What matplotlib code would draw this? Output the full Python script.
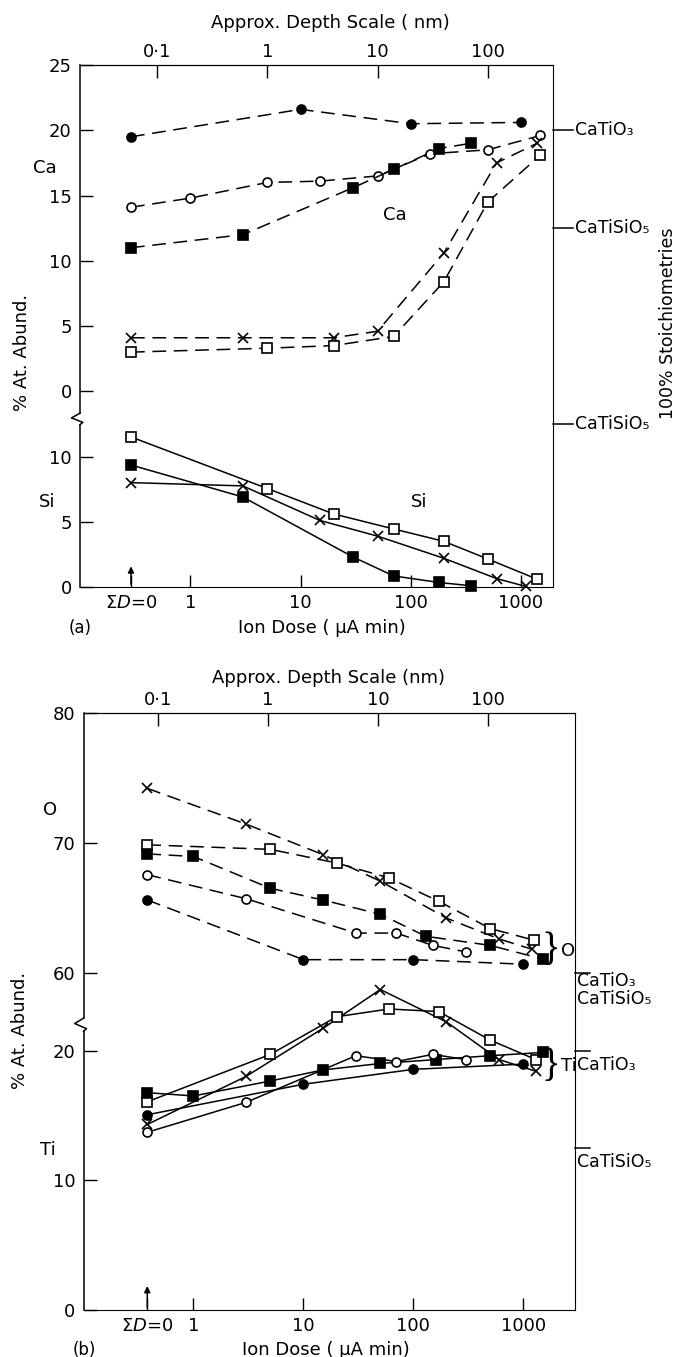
import matplotlib
matplotlib.use('Agg')
import matplotlib.pyplot as plt
import matplotlib.transforms as mtransforms
from matplotlib.ticker import NullLocator

plt.rcParams['font.family'] = ['DejaVu Sans']

# position of the "ΣD=0" column on the dose axis of each panel
SD0_A = 0.29
SD0_B = 0.38

# ---- panel (a): Ca (dashed) ----
ca_fc_x = [SD0_A, 10, 100, 1000]
ca_fc_y = [19.5, 21.6, 20.5, 20.6]
ca_oc_x = [SD0_A, 1, 5, 15, 50, 150, 500, 1500]
ca_oc_y = [14.1, 14.8, 16.0, 16.1, 16.5, 18.2, 18.5, 19.6]
ca_fs_x = [SD0_A, 3, 30, 70, 180, 350]
ca_fs_y = [11.0, 12.0, 15.6, 17.0, 18.6, 19.0]
ca_xx_x = [SD0_A, 3, 20, 50, 200, 600, 1400]
ca_xx_y = [4.1, 4.1, 4.1, 4.6, 10.6, 17.5, 19.0]
ca_os_x = [SD0_A, 5, 20, 70, 200, 500, 1500]
ca_os_y = [3.0, 3.3, 3.5, 4.2, 8.4, 14.5, 18.1]

# ---- panel (a): Si (solid) ----
si_os_x = [SD0_A, 5, 20, 70, 200, 500, 1400]
si_os_y = [11.5, 7.55, 5.6, 4.45, 3.5, 2.15, 0.6]
si_fs_x = [SD0_A, 3, 30, 70, 180, 350]
si_fs_y = [9.35, 6.9, 2.3, 0.85, 0.35, 0.1]
si_xx_x = [SD0_A, 3, 15, 50, 200, 600, 1100]
si_xx_y = [8.0, 7.75, 5.1, 3.9, 2.2, 0.65, 0.05]

# ---- panel (b): O (dashed) ----
o_xx_x = [SD0_B, 3, 15, 50, 200, 600, 1200]
o_xx_y = [74.2, 71.45, 69.1, 67.05, 64.2, 62.6, 61.8]
o_os_x = [SD0_B, 5, 20, 60, 170, 500, 1250]
o_os_y = [69.85, 69.5, 68.45, 67.3, 65.5, 63.4, 62.5]
o_fs_x = [SD0_B, 1, 5, 15, 50, 130, 500, 1500]
o_fs_y = [69.15, 68.95, 66.5, 65.6, 64.5, 62.8, 62.1, 61.05]
o_oc_x = [SD0_B, 3, 30, 70, 150, 300]
o_oc_y = [67.55, 65.7, 63.05, 63.05, 62.1, 61.6]
o_fc_x = [SD0_B, 10, 100, 1000]
o_fc_y = [65.6, 61.0, 61.0, 60.65]

# ---- panel (b): Ti (solid) ----
ti_xx_x = [SD0_B, 3, 15, 50, 200, 600, 1300]
ti_xx_y = [14.3, 18.0, 21.7, 24.7, 22.2, 19.3, 18.4]
ti_os_x = [SD0_B, 5, 20, 60, 170, 500, 1300]
ti_os_y = [16.05, 19.7, 22.6, 23.2, 23.0, 20.8, 19.3]
ti_fs_x = [SD0_B, 1, 5, 15, 50, 160, 500, 1500]
ti_fs_y = [16.75, 16.5, 17.65, 18.5, 19.0, 19.3, 19.6, 19.85]
ti_oc_x = [SD0_B, 3, 30, 70, 150, 300]
ti_oc_y = [13.7, 16.0, 19.6, 19.15, 19.7, 19.3]
ti_fc_x = [SD0_B, 10, 100, 1000]
ti_fc_y = [15.05, 17.4, 18.55, 18.95]

dose_ticks = [1, 10, 100, 1000]
depth_ticks = [0.1, 1, 10, 100]
depth_labels = ['0·1', '1', '10', '100']

DASH = (0, (9, 5))
FS = 13


def series(ax, x, y, kind, ls):
    marker = {'fc': 'o', 'oc': 'o', 'fs': 's', 'os': 's', 'xx': 'x'}[kind]
    face = 'k' if kind in ('fc', 'fs') else 'white'
    ms = 7.5 if kind == 'xx' else 6.5
    ax.plot(x, y, color='k', lw=1.1, ls=ls, marker=marker, ms=ms,
            mfc=face, mec='k', mew=1.2, clip_on=False)


def setup_dose_axis(ax, sd0, xmax, depth_factor):
    ax.set_xscale('log')
    ax.set_xlim(0.1, xmax)
    ax.set_xticks([sd0] + dose_ticks)
    ax.set_xticklabels(['$\\Sigma D$=0', '1', '10', '100', '1000'])
    ax.xaxis.set_minor_locator(NullLocator())
    ax.tick_params(axis='x', direction='in', length=9, width=1, labelsize=FS, pad=5)
    sec = ax.secondary_xaxis('top', functions=(lambda d: d * depth_factor,
                                                lambda z: z / depth_factor))
    sec.set_xticks(depth_ticks)
    sec.set_xticklabels(depth_labels)
    sec.xaxis.set_minor_locator(NullLocator())
    sec.tick_params(direction='in', length=9, width=1, labelsize=FS, pad=3)
    trans = mtransforms.blended_transform_factory(ax.transData, ax.transAxes)
    ax.annotate('', xy=(sd0, 0.045), xycoords=trans, xytext=(sd0, 0.0),
                textcoords=trans,
                arrowprops=dict(arrowstyle='-|>', lw=1.1, color='k', mutation_scale=9))


def left_spine_with_break(ax, b):
    kw = dict(color='k', lw=1.1, transform=ax.transAxes, clip_on=False)
    h, w = 0.011, 0.018
    ax.plot([0, 0], [0, b - h], **kw)
    ax.plot([0, -w, 0.006, 0], [b + h, b + 0.002, b - h * 0.6, b - h], **kw)
    ax.plot([0, 0], [b + h, 1], **kw)
    ax.spines['left'].set_visible(False)


fig = plt.figure(figsize=(6.78, 13.57), dpi=100)

# ================= panel (a) =================
ax_si = fig.add_axes([0.118, 0.5674, 0.6976, 0.3847])
ax_ca = ax_si.twinx()
ax_si.set_ylim(0, 40)
ax_ca.set_ylim(-15, 25)
for s in ax_ca.spines.values():
    s.set_visible(False)
ax_ca.yaxis.set_ticks_position('left')
ax_si.yaxis.set_ticks_position('left')
ax_si.set_yticks([0, 5, 10])
ax_ca.set_yticks([0, 5, 10, 15, 20, 25])
for a in (ax_si, ax_ca):
    a.tick_params(axis='y', direction='in', length=9, width=1, labelsize=FS, pad=6)
setup_dose_axis(ax_si, SD0_A, 1950, 0.2)
left_spine_with_break(ax_si, 0.322)

series(ax_ca, ca_fc_x, ca_fc_y, 'fc', DASH)
series(ax_ca, ca_oc_x, ca_oc_y, 'oc', DASH)
series(ax_ca, ca_fs_x, ca_fs_y, 'fs', DASH)
series(ax_ca, ca_xx_x, ca_xx_y, 'xx', DASH)
series(ax_ca, ca_os_x, ca_os_y, 'os', DASH)
series(ax_si, si_os_x, si_os_y, 'os', '-')
series(ax_si, si_fs_x, si_fs_y, 'fs', '-')
series(ax_si, si_xx_x, si_xx_y, 'xx', '-')

ax_ca.text(72, 13.5, 'Ca', fontsize=FS, ha='center', va='center')
ax_si.text(118, 6.5, 'Si', fontsize=FS, ha='center', va='center')

# stoichiometry marks on the right
for a, yv, lab in ((ax_ca, 20, 'CaTiO₃'), (ax_ca, 12.5, 'CaTiSiO₅'),
                   (ax_si, 12.5, 'CaTiSiO₅')):
    tr = mtransforms.blended_transform_factory(a.transAxes, a.transData)
    a.plot([1.0, 1.042], [yv, yv], color='k', lw=1.1, transform=tr, clip_on=False)
    a.text(1.046, yv, lab, transform=tr, fontsize=12.5, ha='left', va='center')

fig.text(0.985, 0.762, '100% Stoichiometries', rotation=90, fontsize=12.5,
         ha='center', va='center')
fig.text(0.032, 0.74, '% At. Abund.', rotation=90, fontsize=FS,
         ha='center', va='center')
fig.text(0.066, 0.876, 'Ca', fontsize=FS, ha='center', va='center')
fig.text(0.069, 0.630, 'Si', fontsize=FS, ha='center', va='center')
fig.text(0.487, 0.983, 'Approx. Depth Scale ( nm)', fontsize=FS, ha='center', va='center')
fig.text(0.475, 0.537, 'Ion Dose ( μA min)', fontsize=FS, ha='center', va='center')
fig.text(0.118, 0.537, '(a)', fontsize=12, ha='center', va='center')

# ================= panel (b) =================
ax_ti = fig.add_axes([0.1232, 0.0346, 0.7249, 0.4399])
ax_o = ax_ti.twinx()
ax_ti.set_ylim(0, 46)
ax_o.set_ylim(34, 80)
for s in ax_o.spines.values():
    s.set_visible(False)
ax_o.yaxis.set_ticks_position('left')
ax_ti.yaxis.set_ticks_position('left')
ax_ti.set_yticks([0, 10, 20])
ax_o.set_yticks([60, 70, 80])
for a in (ax_ti, ax_o):
    a.tick_params(axis='y', direction='in', length=9, width=1, labelsize=FS, pad=6)
setup_dose_axis(ax_ti, SD0_B, 2950, 0.21)
left_spine_with_break(ax_ti, 0.478)

series(ax_o, o_xx_x, o_xx_y, 'xx', DASH)
series(ax_o, o_os_x, o_os_y, 'os', DASH)
series(ax_o, o_fs_x, o_fs_y, 'fs', DASH)
series(ax_o, o_oc_x, o_oc_y, 'oc', DASH)
series(ax_o, o_fc_x, o_fc_y, 'fc', DASH)
series(ax_ti, ti_xx_x, ti_xx_y, 'xx', '-')
series(ax_ti, ti_os_x, ti_os_y, 'os', '-')
series(ax_ti, ti_fs_x, ti_fs_y, 'fs', '-')
series(ax_ti, ti_oc_x, ti_oc_y, 'oc', '-')
series(ax_ti, ti_fc_x, ti_fc_y, 'fc', '-')

# group braces inside the right edge of panel (b)
for a, yv, lab in ((ax_o, 61.7, 'O'), (ax_ti, 18.8, 'Ti')):
    a.text(2150, yv, '}', fontsize=28, family='Liberation Serif',
           ha='right', va='center')
    a.text(2200, yv, lab, fontsize=FS, ha='left', va='center')

for a, yv, labs in ((ax_o, 60, [('CaTiO₃', 59.35), ('CaTiSiO₅', 58.0)]),
                    (ax_ti, 20, [('CaTiO₃', 18.9)]),
                    (ax_ti, 12.5, [('CaTiSiO₅', 11.4)])):
    tr = mtransforms.blended_transform_factory(a.transAxes, a.transData)
    a.plot([1.0, 1.03], [yv, yv], color='k', lw=1.1, transform=tr, clip_on=False)
    for lab, ty in labs:
        a.text(1.004, ty, lab, transform=tr, fontsize=12.5, ha='left', va='center')

fig.text(0.030, 0.241, '% At. Abund.', rotation=90, fontsize=FS,
         ha='center', va='center')
fig.text(0.074, 0.403, 'O', fontsize=FS, ha='center', va='center')
fig.text(0.071, 0.1525, 'Ti', fontsize=FS, ha='center', va='center')
fig.text(0.484, 0.5004, 'Approx. Depth Scale (nm)', fontsize=FS, ha='center', va='center')
fig.text(0.48, 0.0055, 'Ion Dose ( μA min)', fontsize=FS, ha='center', va='center')
fig.text(0.125, 0.0055, '(b)', fontsize=12, ha='center', va='center')

fig.savefig('out.png', dpi=100)
